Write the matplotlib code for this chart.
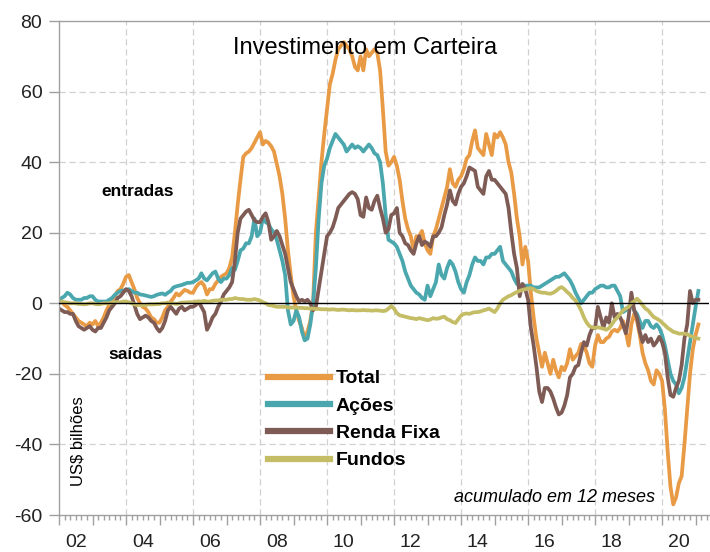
import numpy as np
import matplotlib
matplotlib.use("Agg")
import matplotlib.pyplot as plt
from matplotlib.ticker import MultipleLocator, NullFormatter

plt.rcParams['font.family'] = ['Liberation Sans', 'DejaVu Sans']

# Monthly data, Jan 2002 .. Feb 2021 (US$ bilhões, acumulado em 12 meses)
start_year = 2002

total = [
    0, 0.5, -0.5, -1, -2, -3, -4, -5, -5.5, -6, -6.5, -5.5,            # 2002
    -6, -5, -6.5, -5.5, -4, -2, -0.5, 1, 2, 3.5, 4, 5.5,                # 2003
    7.5, 8, 6, 4, 1.5, 0, -1, -1.5, -2.5, -4, -4.5, -5.5,               # 2004
    -5.5, -4, -2, -1, 0.5, 1.5, 2.8, 2.2, 3, 3.8, 3.5, 3,               # 2005
    3, 4.5, 5.5, 6, 5, 2.5, 4, 4, 5.5, 6.5, 7.5, 8,                     # 2006
    8.5, 10, 13, 20, 28, 35, 41.5, 42.5, 43, 44, 45.5, 47,              # 2007
    48.5, 45, 46, 45.5, 44.5, 43, 39.5, 36, 31, 24, 15, 8,              # 2008
    2, -2, -5, -7, -10, -8, -5, 0, 20, 30, 40, 48,                      # 2009
    55, 62, 65, 69, 72, 73, 74, 73, 72, 70, 67, 66,                     # 2010
    70, 66, 72, 70, 71, 72, 71, 66, 55, 43, 39, 40,                     # 2011
    41.5, 39, 35, 29, 24, 21, 19, 15, 19, 19, 20.5, 17,                 # 2012
    15, 14, 19, 21, 24, 27, 30, 33, 38, 34, 33, 35,                     # 2013
    36, 38, 41, 42, 46, 49, 44, 43, 42, 48, 45, 42,                     # 2014
    48, 47, 48.5, 47, 45, 40, 37, 31, 24, 19, 11, 16,                   # 2015
    12, 3, -4, -10, -14, -18, -14, -17, -20, -16, -19, -21,             # 2016
    -18, -19, -17, -13, -16, -15, -14, -11.5, -12, -14, -17, -18,       # 2017
    -12, -9, -11, -11, -10, -9.5, -8, -7.5, -8, -7, -5, -8,             # 2018
    -12, -6, -3, -5, -9, -14, -17, -19, -22, -23, -19, -20,             # 2019
    -22, -30, -42, -52, -57, -55, -51, -49, -40, -30, -20, -13,         # 2020
    -9, -6,                                                             # 2021
]

acoes = [
    1, 1.5, 2, 3, 2.5, 1.5, 1, 1, 1, 1.5, 1.5, 2,                       # 2002
    2, 1, 0.5, 0.5, 0.5, 0.5, 1, 1.5, 2.4, 3, 3.5, 3.6,                 # 2003
    3.8, 4, 3.5, 3, 3, 2.5, 2.4, 2.2, 2, 1.8, 2, 2.4,                   # 2004
    2.6, 2.8, 2.4, 3, 3.5, 4.5, 4.8, 5, 5.2, 5.5, 5.8, 5.8,             # 2005
    6, 6.5, 7, 8.5, 7, 6.5, 7.5, 8.5, 9, 7, 6, 7,                       # 2006
    7, 8, 10, 9.5, 12, 15, 15.5, 17, 17, 19, 24, 19,                    # 2007
    20, 24, 23, 22.5, 21, 20, 18, 15, 12, 8, -2, -6,                    # 2008
    -5, -2, -4, -8, -10.5, -10, -6, 0, 10, 24, 34, 39,                  # 2009
    41, 44, 46, 48, 47, 46, 45, 43, 44, 45, 44, 44.5,                   # 2010
    44, 43, 44, 45, 44, 42.5, 42, 40, 34, 25, 18, 17.5,                 # 2011
    17, 16, 14, 12, 9, 7, 5, 4, 3, 2.5, 1.5, 1,                         # 2012
    5, 2, 4, 6, 11, 8, 7, 10, 12, 11, 9, 6,                             # 2013
    4, 3, 6, 8, 11, 13, 12, 12, 11, 13, 13, 14,                         # 2014
    14, 15, 16, 12, 11, 10, 9, 7, 5.5, 5, 4.5, 5,                       # 2015
    5, 5, 4.5, 4.5, 4.5, 5, 5.5, 6, 6.5, 7, 7.5, 7.5,                   # 2016
    8, 8.5, 7.5, 6.5, 5, 3, 1.5, 0, 1, 2, 3, 3,                         # 2017
    4, 4.5, 5, 5, 4.5, 4.5, 5, 5, 3.5, 2, -2.5, -2,                     # 2018
    -1, 0, -2, -3, -5, -7, -5, -5, -6.5, -7, -6, -7,                    # 2019
    -9, -12, -16, -20, -22, -23, -25.5, -24, -21, -16, -11, -6,         # 2020
    -1, 3.5,                                                            # 2021
]

renda_fixa = [
    -1.5, -2, -2.5, -2.5, -3, -3, -5, -6.5, -7, -7.5, -7, -6.5,         # 2002
    -7.5, -8, -7, -7, -5.5, -4, -2, -1, 0, 1.5, 2, 3,                   # 2003
    4, 3.5, 2, -0.5, -3, -4.5, -4, -3.5, -4, -5, -5.5, -7,              # 2004
    -8, -7, -5, -2, -1, -2, -3, -1.5, -1, -2, -1.5, -1,                 # 2005
    -1, -0.5, 0.5, -1, -2.5, -7.5, -6, -4, -3, -1, 0.5, 2.5,            # 2006
    3.5, 4.5, 6, 12, 20, 24, 25, 26, 26.5, 25, 23.5, 23,                # 2007
    23, 24.5, 25.5, 23, 18, 19, 20.5, 19, 16.5, 14, 10, 6,              # 2008
    4, 2, 0.5, 1, 0.5, 1, 0, -2, -1, 4, 9, 14,                          # 2009
    19, 20, 21.5, 24, 27, 28, 29, 30, 31, 31.5, 31, 29.5,               # 2010
    25, 24.5, 30, 27, 26.5, 29, 30.5, 27, 24, 20, 21, 25,               # 2011
    25.5, 27, 20, 19, 17, 16.5, 15, 14, 17, 19, 16.5, 17.5,             # 2012
    17, 16, 19, 19, 20, 21.5, 25, 28, 32, 29, 28, 31,                   # 2013
    33, 34, 36, 38.5, 38, 37.5, 33, 32, 31, 36, 37.5, 35,               # 2014
    35, 34, 33, 32, 31, 27, 20, 14, 10, 2, 5.5, 4,                      # 2015
    1, -7, -12, -18, -25, -28, -24, -24, -25, -27, -29.5, -31.5,        # 2016
    -31, -29, -26, -21, -20, -18, -17.5, -14, -11, -12, -9, -7,         # 2017
    -7, -1, -4, -7, -4, -5.5, 0, -4, -3, -4, -6, -8.5,                  # 2018
    -4, 3, -2, -4, -8, -11, -9, -11, -10, -12, -11, -9.5,               # 2019
    -11, -14, -21, -26, -26.5, -24, -22, -17.5, -10, -6, 3.5, 0,        # 2020
    1, 1,                                                               # 2021
]

fundos = [
    0.5, 0.5, 0.3, 0.2, 0, 0, 0, -0.2, -0.2, -0.3, -0.2, 0,             # 2002
    0, -0.2, -0.3, -0.2, 0, 0, 0, 0.2, 0.3, 0.3, 0.3, 0.5,              # 2003
    0.5, 0.3, 0, -0.3, -0.5, -0.5, -0.5, -0.5, -0.3, -0.3, -0.3, -0.2,  # 2004
    -0.2, 0, 0, 0.2, 0, 0, -0.2, 0, 0.2, 0.2, 0.3, 0.3,                 # 2005
    0.3, 0.5, 0.5, 0.5, 0.7, 0.5, 0.5, 0.7, 0.8, 0.8, 1, 1,             # 2006
    1, 1.2, 1.2, 1.5, 1.3, 1.2, 1.2, 1, 1, 1, 1.2, 1,                   # 2007
    0.8, 0.3, 0, -0.5, -0.6, -0.8, -1, -1, -1, -1, -1.2, -1.2,          # 2008
    -1.2, -1.2, -1.3, -1.3, -1.4, -1.4, -1.5, -1.5, -1.6, -1.6, -1.7, -1.7,  # 2009
    -1.7, -1.8, -1.7, -1.8, -1.9, -1.8, -1.8, -1.9, -2, -1.9, -2, -2,   # 2010
    -2, -1.9, -2, -2, -2.1, -2, -2, -2.1, -2.2, -2.1, -1.5, -0.8,       # 2011
    -1.5, -2.8, -3.4, -3.6, -3.8, -4, -4.2, -4.3, -4.5, -4.2, -4.4, -4.6,  # 2012
    -4.8, -4.6, -4.2, -4.4, -4.3, -4, -3.8, -4.5, -4.8, -5.3, -5.6, -4.5,  # 2013
    -3.5, -3, -2.9, -3, -2.7, -2.5, -2.5, -2.3, -2, -1.8, -1.5, -2,     # 2014
    -2.5, -1.5, 0, 1, 1.5, 2, 2.3, 2.8, 3.2, 3.5, 3.8, 4,               # 2015
    4.2, 4.3, 4, 3.5, 3.2, 3, 3, 2.8, 2.7, 3, 3.5, 4.2,                 # 2016
    4.6, 4, 3.2, 2.5, 1.5, 0.8, -0.5, -2, -4, -5.5, -6.5, -6.8,         # 2017
    -7, -6.8, -7, -7.2, -7.5, -7, -6, -4.8, -4, -3, -2, -1.5,           # 2018
    -1, 0, 0.5, 1.3, 0.5, -0.5, -1.5, -2, -3, -3.9, -4.3, -4.8,         # 2019
    -5.5, -6.2, -7, -7.5, -8.1, -8.3, -8.6, -8.6, -8.6, -8.8, -9.2, -9.5,  # 2020
    -9.8, -10,                                                          # 2021
]

series_names = ["Total", "Ações", "Renda Fixa", "Fundos"]
series_colors = ["#E99A45", "#4AA7AE", "#7E5C55", "#C4BD66"]
year_labels = ["02", "04", "06", "08", "10", "12", "14", "16", "18", "20"]
y_ticks = [-60, -40, -20, 0, 20, 40, 60, 80]

n = len(total)
t = start_year + np.arange(n) / 12.0

fig = plt.figure(figsize=(7.10, 5.52), dpi=100)
ax = fig.add_axes([59 / 710, 1 - 515 / 552, 650 / 710, (515 - 21) / 552])

for vals, name, col in zip([total, acoes, renda_fixa, fundos], series_names, series_colors):
    ax.plot(t, vals, color=col, lw=2.7, label=name, solid_joinstyle='round', zorder=2)

ax.axhline(0, color='black', lw=1.0, zorder=3)

ax.set_xlim(2002, 2021.4)
ax.set_ylim(-60, 80)

# grid
for yv in [-40, -20, 20, 40, 60]:
    ax.axhline(yv, color='#D0D0D0', lw=0.9, ls=(0, (5, 3)), zorder=0)
for xv in range(2004, 2021, 2):
    ax.axvline(xv, color='#D0D0D0', lw=0.9, ls=(0, (5, 3)), zorder=0)

# spines
ax.spines['right'].set_visible(False)
for s in ['left', 'bottom', 'top']:
    ax.spines[s].set_color('#A0A0A0')
    ax.spines[s].set_linewidth(1.0)

ax.set_yticks(y_ticks)
ax.set_yticklabels([str(v) for v in y_ticks])
ax.tick_params(axis='y', direction='out', length=7, width=1, color='#A0A0A0',
               labelsize=14, pad=5, labelcolor='#222222')

ax.xaxis.set_major_locator(MultipleLocator(1))
ax.xaxis.set_minor_locator(MultipleLocator(1 / 6))
ax.xaxis.set_major_formatter(NullFormatter())
ax.tick_params(axis='x', which='major', direction='out', length=7, width=1, color='#A0A0A0')
ax.tick_params(axis='x', which='minor', direction='out', length=3.5, width=1, color='#A0A0A0')

sec = ax.secondary_xaxis('bottom')
label_pos = [2000 + int(s) + 0.5 for s in year_labels]
sec.set_xticks(label_pos)
sec.set_xticklabels(year_labels)
sec.tick_params(axis='x', length=0, pad=14, labelsize=14, labelcolor='#222222')
sec.spines['bottom'].set_visible(False)

# title and annotations
ax.text(0.471, 0.945, "Investimento em Carteira", transform=ax.transAxes,
        ha='center', va='center', fontsize=17, color='black')
ax.text(0.121, 0.655, "entradas", transform=ax.transAxes, ha='center', va='center',
        fontsize=12.5, fontweight='bold')
ax.text(0.118, 0.325, "saídas", transform=ax.transAxes, ha='center', va='center',
        fontsize=12.5, fontweight='bold')
ax.text(0.029, 0.15, "US$ bilhões", transform=ax.transAxes, ha='center', va='center',
        rotation=90, fontsize=12)
ax.text(0.762, 0.036, "acumulado em 12 meses", transform=ax.transAxes, ha='center',
        va='center', fontsize=13, style='italic')

leg = ax.legend(loc='upper left', bbox_to_anchor=(260 / 710, 1 - 362 / 552),
                bbox_transform=fig.transFigure, frameon=False,
                prop={'weight': 'bold', 'size': 14}, handlelength=3.2,
                handletextpad=0.3, labelspacing=0.5, borderaxespad=0)
for ln in leg.get_lines():
    ln.set_linewidth(4.5)

fig.savefig("out.png", dpi=100, facecolor='white')
